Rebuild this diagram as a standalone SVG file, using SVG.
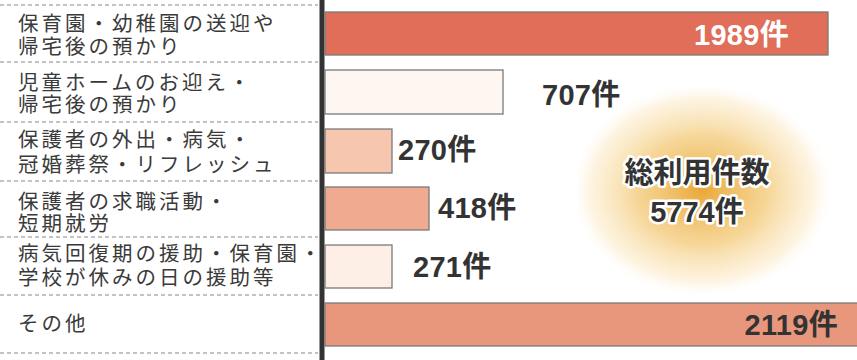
<svg xmlns="http://www.w3.org/2000/svg" width="857" height="360" viewBox="0 0 857 360">
<defs>
<radialGradient id="glow" cx="0.5" cy="0.5" r="0.5">
<stop offset="0" stop-color="#E9A83A" stop-opacity="1"/>
<stop offset="0.5" stop-color="#F2C56C" stop-opacity="0.7"/>
<stop offset="0.85" stop-color="#FBE6BC" stop-opacity="0.45"/>
<stop offset="1" stop-color="#FFFFFF" stop-opacity="0"/>
</radialGradient>
</defs>
<style>
.lbl{font-family:"Noto Sans CJK JP","Noto Sans",sans-serif;font-size:20.5px;letter-spacing:3px;fill:#3a3a3a}
.num{font-family:"Liberation Sans","Noto Sans CJK JP",sans-serif;font-weight:bold;font-size:29px;letter-spacing:0.3px;fill:#333}
.numw{fill:#fff}
.tot{font-family:"Liberation Sans","Noto Sans CJK JP",sans-serif;font-weight:bold;font-size:29px;fill:#333;stroke:#fff;stroke-width:5px;paint-order:stroke;stroke-linejoin:round}
.bar{stroke:#7a7a7a;stroke-width:1.3}
.dash{stroke:#888;stroke-width:1.2;stroke-dasharray:4 3;fill:none}
</style>
<rect width="857" height="360" fill="#fff"/>
<ellipse cx="702" cy="190" rx="132" ry="108" fill="url(#glow)"/>
<g id="connectors">
<line class="dash" x1="0" y1="5" x2="318" y2="5"/>
<line class="dash" x1="0" y1="62" x2="318" y2="62"/>
<line class="dash" x1="0" y1="122" x2="318" y2="122"/>
<line class="dash" x1="0" y1="181" x2="318" y2="181"/>
<line class="dash" x1="0" y1="237" x2="318" y2="237"/>
<line class="dash" x1="0" y1="295" x2="318" y2="295"/>
<line class="dash" x1="0" y1="353" x2="318" y2="353"/>
<line x1="322" y1="0" x2="322" y2="360" stroke="#333" stroke-width="5"/>
</g>
<g id="row1">
<text class="lbl" x="18" y="31">保育園・幼稚園の送迎や<tspan x="18" dy="23">帰宅後の預かり</tspan></text>
<rect class="bar" x="325" y="12" width="503" height="43" fill="#E06E58"/>
<text class="num numw" x="789" y="45" text-anchor="end">1989件</text>
</g>
<g id="row2">
<text class="lbl" x="18" y="90">児童ホームのお迎え・<tspan x="18" dy="22">帰宅後の預かり</tspan></text>
<rect class="bar" x="325" y="70" width="178" height="44" fill="#FDF6F1"/>
<text class="num" x="542" y="105">707件</text>
</g>
<g id="row3">
<text class="lbl" x="18" y="147">保護者の外出・病気・<tspan x="18" dy="25">冠婚葬祭・リフレッシュ</tspan></text>
<rect class="bar" x="325" y="129" width="67" height="44" fill="#F6C6AF"/>
<text class="num" x="398" y="160">270件</text>
</g>
<g id="row4">
<text class="lbl" x="18" y="209">保護者の求職活動・<tspan x="18" dy="22">短期就労</tspan></text>
<rect class="bar" x="325" y="187" width="104" height="43" fill="#EFAA8F"/>
<text class="num" x="438" y="218">418件</text>
</g>
<g id="row5">
<text class="lbl" x="18" y="261">病気回復期の援助・保育園・<tspan x="18" dy="24">学校が休みの日の援助等</tspan></text>
<rect class="bar" x="325" y="245" width="67" height="43" fill="#FDEEE6"/>
<text class="num" x="413" y="277">271件</text>
</g>
<g id="row6">
<text class="lbl" x="18" y="331">その他</text>
<rect class="bar" x="325" y="303" width="540" height="43" fill="#E9977C"/>
<text class="num" x="838" y="335" text-anchor="end">2119件</text>
</g>
<g id="total">
<text class="tot" x="697" y="183" text-anchor="middle">総利用件数</text>
<text class="tot" x="697" y="222" text-anchor="middle">5774件</text>
</g>
</svg>
